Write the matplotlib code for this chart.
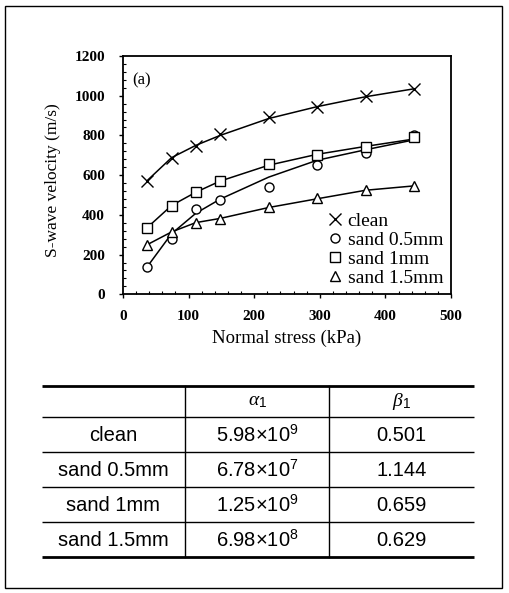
import matplotlib
matplotlib.use("Agg")
import matplotlib.pyplot as plt
from matplotlib.ticker import MultipleLocator
from matplotlib.patches import Rectangle

plt.rcParams['mathtext.fontset'] = 'custom'
plt.rcParams['mathtext.rm'] = 'Liberation Sans'
plt.rcParams['mathtext.it'] = 'Liberation Serif:italic'

# ---- data ----
stress = [37, 74, 111, 148, 222, 296, 370, 444]
series_names = ["clean", "sand 0.5mm", "sand 1mm", "sand 1.5mm"]
v_clean = [573, 686, 749, 806, 892, 941, 998, 1035]
v_sand05 = [139, 279, 429, 474, 538, 652, 714, 803]
v_sand1 = [336, 445, 514, 571, 655, 702, 744, 792]
v_sand15 = [247, 316, 361, 380, 439, 487, 526, 543]
# fitted curves
fit_clean = [573, 688, 750, 800, 885, 945, 995, 1035]
fit_sand05 = [139, 305, 408, 479, 590, 675, 728, 778]
fit_sand1 = [336, 447, 514, 570, 650, 705, 745, 782]
fit_sand15 = [250, 314, 361, 382, 437, 481, 524, 546]
markers = ['x', 'o', 's', '^']

col_headers = ["", r"$\alpha_1$", r"$\beta_1$"]
alpha_vals = [r"5.98$\times$10$^{9}$", r"6.78$\times$10$^{7}$",
              r"1.25$\times$10$^{9}$", r"6.98$\times$10$^{8}$"]
beta_vals = ["0.501", "1.144", "0.659", "0.629"]

W, H = 509, 593
fig = plt.figure(figsize=(W / 100, H / 100), dpi=100)

# outer frame
fig.add_artist(Rectangle((5 / W, 1 - 588 / H), 497 / W, 582 / H,
                         transform=fig.transFigure, fill=False,
                         edgecolor='black', linewidth=1.0))

# ---- chart ----
ax = fig.add_axes([123 / W, 1 - 294.3 / H, 328 / W, 238.3 / H])
serif = 'Liberation Serif'
vals = [v_clean, v_sand05, v_sand1, v_sand15]
fits = [fit_clean, fit_sand05, fit_sand1, fit_sand15]
for name, v, f, m in zip(series_names, vals, fits, markers):
    ax.plot(stress, f, color='black', linewidth=1.1)
    ms = 8 if m == 'x' else 6.5
    ax.plot(stress, v, linestyle='none', marker=m, markersize=ms,
            markerfacecolor='white', markeredgecolor='black',
            markeredgewidth=1.0, label=name)

ax.set_xlim(0, 500)
ax.set_ylim(0, 1200)
ax.xaxis.set_major_locator(MultipleLocator(100))
ax.xaxis.set_minor_locator(MultipleLocator(20))
ax.yaxis.set_major_locator(MultipleLocator(200))
ax.yaxis.set_minor_locator(MultipleLocator(40))
ax.tick_params(which='major', direction='out', length=3, width=1.0,
               labelsize=11)
ax.tick_params(axis='x', which='major', pad=8)
ax.tick_params(axis='y', which='major', pad=10)
ax.tick_params(which='minor', direction='in', length=2.5, width=0.8)
for lab in ax.get_xticklabels() + ax.get_yticklabels():
    lab.set_fontfamily(serif)
    lab.set_fontweight('bold')
for s in ax.spines.values():
    s.set_linewidth(1.3)

ax.set_xlabel("Normal stress (kPa)", fontfamily=serif, fontsize=13.5, labelpad=5)
ax.set_ylabel("S-wave velocity (m/s)", fontfamily=serif, fontsize=12.5)
ax.yaxis.set_label_coords(-0.19, 0.48)
ax.text(29, 1075, "(a)", fontfamily=serif, fontsize=12, ha='center', va='center')

leg = ax.legend(loc='lower right', frameon=False, prop={'family': serif, 'size': 14},
                handlelength=0.7, handletextpad=0.3, labelspacing=0.06,
                borderaxespad=0.0, bbox_to_anchor=(1.0, 0.0))

# ---- table ----
tx0, tx1 = 42, 474
ty0, ty1 = 385.7, 556.7
tax = fig.add_axes([tx0 / W, 1 - ty1 / H, (tx1 - tx0) / W, (ty1 - ty0) / H])
tax.set_xlim(tx0, tx1)
tax.set_ylim(ty1, ty0)
tax.axis('off')
row_lines = [385.7, 416.7, 451.7, 486.7, 522.0, 556.7]
col_lines = [42, 185, 329.3, 474]
for i, y in enumerate(row_lines):
    lw = 2.0 if i in (0, len(row_lines) - 1) else 1.0
    tax.plot([tx0, tx1], [y, y], color='black', linewidth=lw, clip_on=False,
             solid_capstyle='butt')
for x in col_lines[1:-1]:
    tax.plot([x, x], [ty0, ty1], color='black', linewidth=1.0, clip_on=False)

sans = 'Liberation Sans'
cx = [(col_lines[i] + col_lines[i + 1]) / 2 for i in range(3)]
for j, h in enumerate(col_headers):
    if h:
        tax.text(cx[j], (row_lines[0] + row_lines[1]) / 2, h, ha='center',
                 va='center', fontsize=14, fontfamily=sans)
for i in range(4):
    yc = (row_lines[i + 1] + row_lines[i + 2]) / 2 + 1
    tax.text(cx[0], yc, series_names[i], ha='center', va='center',
             fontsize=14.5, fontfamily=sans)
    tax.text(cx[1], yc, alpha_vals[i], ha='center', va='center',
             fontsize=14.5, fontfamily=sans)
    tax.text(cx[2], yc, beta_vals[i], ha='center', va='center',
             fontsize=14.5, fontfamily=sans)

fig.savefig("out.png", dpi=100)
